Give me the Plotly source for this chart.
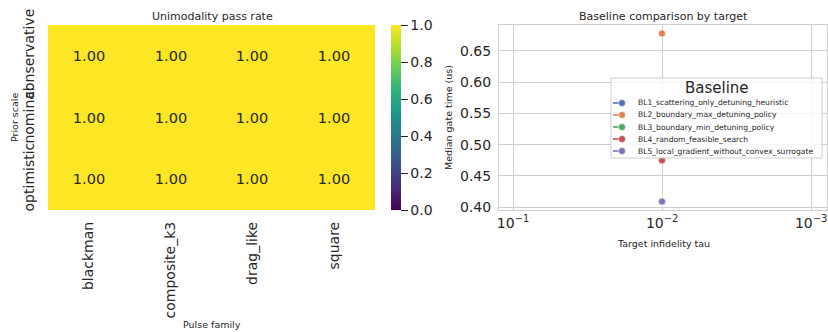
import plotly.graph_objects as go

# Heatmap data: unimodality pass rate by prior scale and pulse family
pulse_families = ["blackman", "composite_k3", "drag_like", "square"]
prior_scales = ["conservative", "nominal", "optimistic"]
pass_rate = [
    [1.0, 1.0, 1.0, 1.0],
    [1.0, 1.0, 1.0, 1.0],
    [1.0, 1.0, 1.0, 1.0],
]

# Baseline comparison: median gate time (us) per target infidelity
targets = [0.01]
baselines = [
    "BL1_scattering_only_detuning_heuristic",
    "BL2_boundary_max_detuning_policy",
    "BL3_boundary_min_detuning_policy",
    "BL4_random_feasible_search",
    "BL5_local_gradient_without_convex_surrogate",
]
median_gate_time = [
    [0.475],
    [0.678],
    [0.409],
    [0.475],
    [0.409],
]
colors = ["#4C72B0", "#DD8452", "#55A868", "#C44E52", "#8172B3"]

W, H = 828, 332
FONT = "DejaVu Sans"
TXT = "#262626"
GRID = "#cfcfcf"


def px_x(p):
    return p / W


def px_y(p):
    return (H - p) / H


y_dom = [px_y(210), px_y(25)]

fig = go.Figure()

fig.add_trace(go.Heatmap(
    z=pass_rate, x=pulse_families, y=prior_scales,
    colorscale="Viridis", zmin=0, zmax=1,
    texttemplate="%{z:.2f}", textfont=dict(family=FONT, size=14.5, color=TXT),
    xaxis="x", yaxis="y", showlegend=False,
    colorbar=dict(
        x=px_x(391), xanchor="left", xpad=0,
        y=y_dom[0], yanchor="bottom", ypad=0,
        len=185, lenmode="pixels", thickness=10, thicknessmode="pixels",
        outlinewidth=0, ticks="outside", ticklen=7, tickcolor=TXT,
        tickvals=[0, 0.2, 0.4, 0.6, 0.8, 1.0], tickformat=".1f",
        tickfont=dict(family=FONT, size=14, color=TXT),
    ),
))

for name, vals, col in zip(baselines, median_gate_time, colors):
    fig.add_trace(go.Scatter(
        x=targets, y=vals, name=name, mode="lines+markers",
        line=dict(color=col, dash="dash", width=1.5),
        marker=dict(color=col, size=7, line=dict(color="white", width=0.6)),
        xaxis="x2", yaxis="y2", showlegend=False,
    ))

fig.update_layout(
    width=W, height=H,
    margin=dict(l=0, r=0, t=0, b=0, autoexpand=False),
    paper_bgcolor="white", plot_bgcolor="white",
    font=dict(family=FONT, color=TXT),
    xaxis=dict(
        domain=[px_x(48), px_x(375)], anchor="y", automargin=False,
        tickangle=-90, showgrid=False, zeroline=False, ticks="",
        tickfont=dict(size=14, color=TXT), ticklabelstandoff=8,
    ),
    yaxis=dict(
        domain=y_dom, anchor="x", autorange="reversed", automargin=False,
        tickangle=-90, showgrid=False, zeroline=False, ticks="",
        tickfont=dict(size=14, color=TXT), ticklabelstandoff=10,
    ),
    xaxis2=dict(
        domain=[px_x(499), px_x(827)], anchor="y2", type="log",
        automargin=False, range=[-0.906, -3.107],
        tickvals=[0.1, 0.01, 0.001],
        ticktext=["10<sup>−1</sup>", "10<sup>−2</sup>", "10<sup>−3</sup>"],
        showgrid=True, gridcolor=GRID, gridwidth=1, zeroline=False,
        showline=True, linecolor=GRID, linewidth=1, mirror=True, ticks="",
        tickfont=dict(size=14, color=TXT),
    ),
    yaxis2=dict(
        domain=y_dom, anchor="x2", range=[0.3955, 0.6915], automargin=False,
        tickvals=[0.40, 0.45, 0.50, 0.55, 0.60, 0.65], tickformat=".2f",
        showgrid=True, gridcolor=GRID, gridwidth=1, zeroline=False,
        showline=True, linecolor=GRID, linewidth=1, mirror=True, ticks="",
        tickfont=dict(size=14, color=TXT), ticklabelstandoff=4,
    ),
    showlegend=False,
)

# Compact legend box drawn with shapes and text inside the right panel
LEG_L, LEG_R, LEG_T, LEG_B = 611, 822, 78, 158
fig.add_shape(
    type="rect", xref="paper", yref="paper", layer="above",
    x0=px_x(LEG_L), x1=px_x(LEG_R), y0=px_y(LEG_B), y1=px_y(LEG_T),
    fillcolor="rgba(255,255,255,0.8)", line=dict(color=GRID, width=1),
)
fig.add_annotation(
    text="Baseline", x=px_x((LEG_L + LEG_R) / 2), y=px_y(88),
    xref="paper", yref="paper", xanchor="center", yanchor="middle",
    showarrow=False, font=dict(family=FONT, size=15, color=TXT),
)
entry_rows = [103, 115, 127, 139, 151]
for name, col, row in zip(baselines, colors, entry_rows):
    fig.add_shape(
        type="line", xref="paper", yref="paper", layer="above",
        x0=px_x(613), x1=px_x(631), y0=px_y(row), y1=px_y(row),
        line=dict(color=col, width=1.6, dash="dash"),
    )
    fig.add_shape(
        type="circle", xref="paper", yref="paper", layer="above",
        x0=px_x(618.5), x1=px_x(625.5), y0=px_y(row + 3.5), y1=px_y(row - 3.5),
        fillcolor=col, line=dict(color="white", width=0.6),
    )
    fig.add_annotation(
        text=name, x=px_x(636), y=px_y(row),
        xref="paper", yref="paper", xanchor="left", yanchor="middle",
        showarrow=False, font=dict(family=FONT, size=7.6, color=TXT),
    )

annots = [
    dict(text="Unimodality pass rate", x=px_x(212), y=px_y(16), size=11, ya="middle"),
    dict(text="Baseline comparison by target", x=px_x(663), y=px_y(16), size=11, ya="middle"),
    dict(text="Prior scale", x=px_x(14), y=px_y(117), size=9.5, angle=-90, ya="middle"),
    dict(text="Median gate time (us)", x=px_x(448), y=px_y(117), size=9.5, angle=-90, ya="middle"),
    dict(text="Target infidelity tau", x=px_x(663), y=px_y(243), size=9.5, ya="middle"),
    dict(text="Pulse family", x=px_x(212), y=px_y(331.5), size=9.5, ya="bottom"),
]
for a in annots:
    fig.add_annotation(
        text=a["text"], x=a["x"], y=a["y"], xref="paper", yref="paper",
        xanchor="center", yanchor=a["ya"], showarrow=False,
        textangle=a.get("angle", 0),
        font=dict(family=FONT, size=a["size"], color=TXT),
    )

fig.write_html("out.html")
